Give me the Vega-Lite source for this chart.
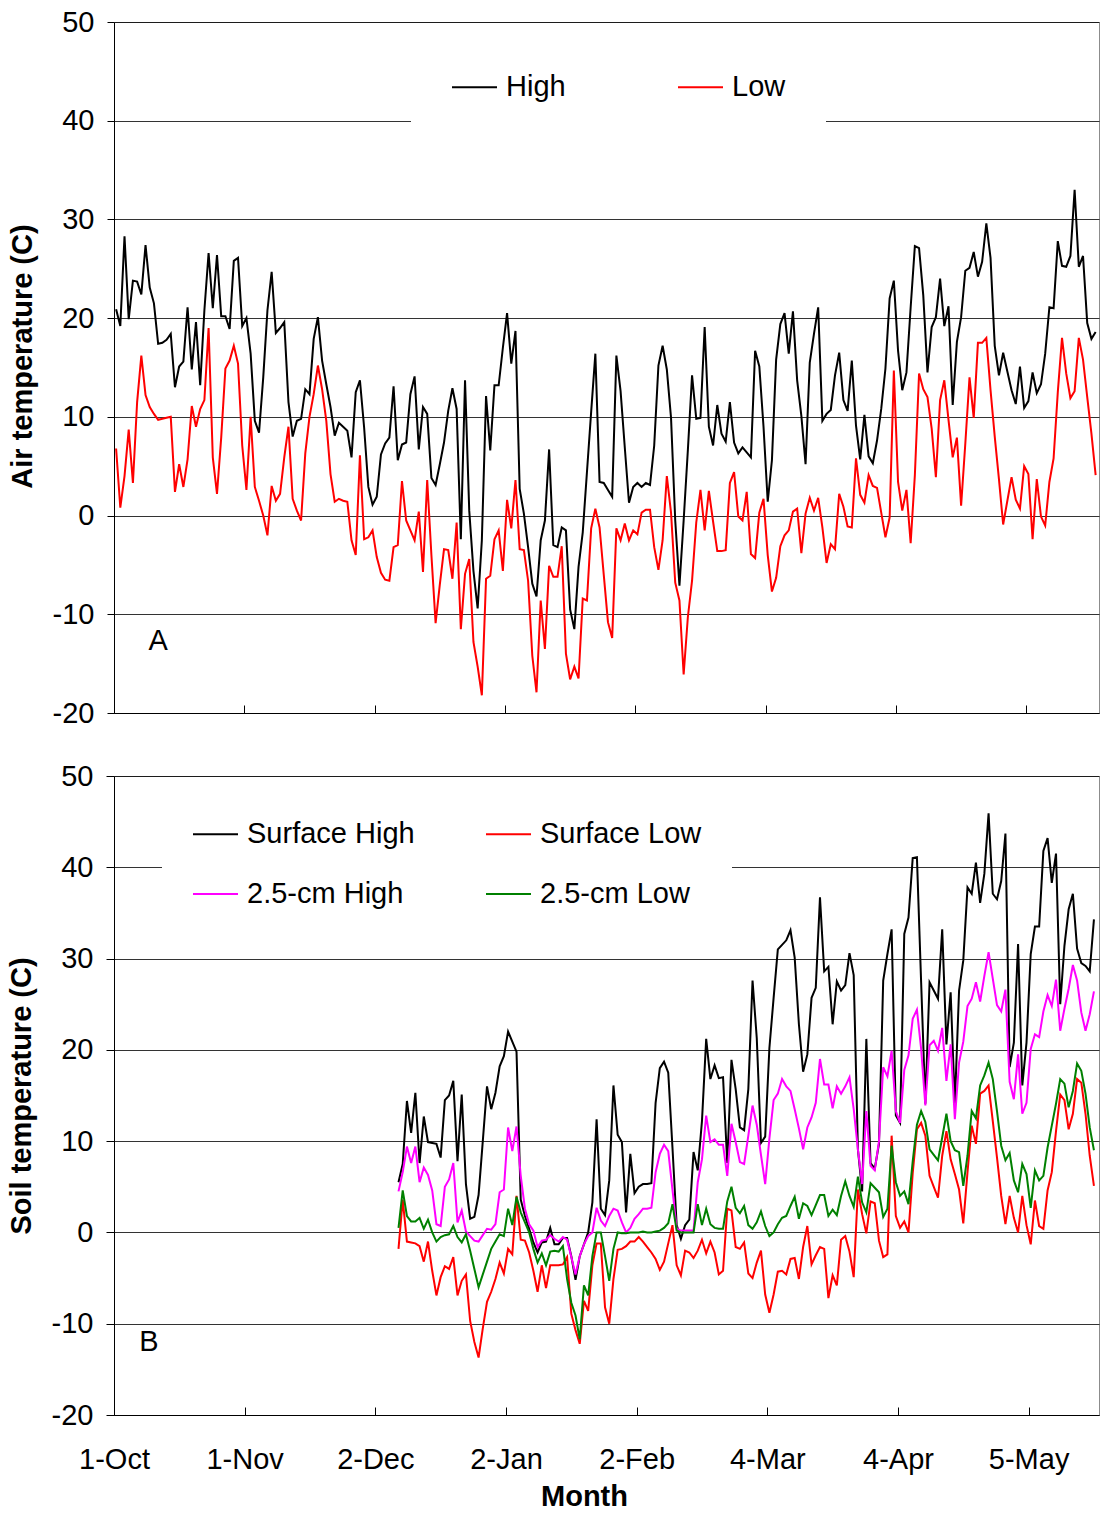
{
  "$schema": "https://vega.github.io/schema/vega-lite/v6.json",
  "background": "#ffffff",
  "padding": {"left": 6, "top": 7, "right": 0, "bottom": 0},
  "spacing": 32,
  "config": {
    "font": "Liberation Sans",
    "view": {"stroke": "#8c8c8c", "strokeWidth": 1},
    "axis": {
      "labelFont": "Liberation Sans", "labelFontSize": 29, "labelColor": "#000000",
      "titleFont": "Liberation Sans", "titleFontSize": 29, "titleFontWeight": "bold", "titleColor": "#000000",
      "domainColor": "#000000", "tickColor": "#000000", "gridColor": "#000000", "gridOpacity": 0.8
    }
  },
  "resolve": {
    "scale": {"x": "independent", "y": "independent", "color": "independent"},
    "legend": {"color": "independent"}
  },
  "datasets": {
    "air": [
      {"day":0,"High":20.9,"Low":6.8},{"day":1,"High":19.2,"Low":0.8},{"day":2,"High":28.3,"Low":4.0},{"day":3,"High":19.9,"Low":8.7},{"day":4,"High":23.8,"Low":3.3},
      {"day":5,"High":23.7,"Low":11.5},{"day":6,"High":22.4,"Low":16.2},{"day":7,"High":27.4,"Low":12.2},{"day":8,"High":23.1,"Low":11.0},{"day":9,"High":21.5,"Low":10.3},
      {"day":10,"High":17.4,"Low":9.7},{"day":11,"High":17.5,"Low":9.8},{"day":12,"High":17.8,"Low":9.9},{"day":13,"High":18.4,"Low":10.0},{"day":14,"High":13.0,"Low":2.4},
      {"day":15,"High":15.1,"Low":5.2},{"day":16,"High":15.6,"Low":2.9},{"day":17,"High":21.1,"Low":5.7},{"day":18,"High":14.8,"Low":11.1},{"day":19,"High":19.6,"Low":9.0},
      {"day":20,"High":13.2,"Low":10.8},{"day":21,"High":20.8,"Low":11.7},{"day":22,"High":26.6,"Low":19.0},{"day":23,"High":21.0,"Low":5.9},{"day":24,"High":26.4,"Low":2.2},
      {"day":25,"High":20.2,"Low":7.9},{"day":26,"High":20.2,"Low":14.9},{"day":27,"High":18.9,"Low":15.7},{"day":28,"High":25.8,"Low":17.2},{"day":29,"High":26.1,"Low":15.4},
      {"day":30,"High":19.2,"Low":7.1},{"day":31,"High":20.0,"Low":2.6},{"day":32,"High":16.4,"Low":10.0},{"day":33,"High":9.6,"Low":2.9},{"day":34,"High":8.4,"Low":1.5},
      {"day":35,"High":14.0,"Low":0.0},{"day":36,"High":20.8,"Low":-2.0},{"day":37,"High":24.7,"Low":3.0},{"day":38,"High":18.5,"Low":1.5},{"day":39,"High":19.0,"Low":2.2},
      {"day":40,"High":19.6,"Low":5.9},{"day":41,"High":11.5,"Low":9.0},{"day":42,"High":8.0,"Low":1.7},{"day":43,"High":9.6,"Low":0.5},{"day":44,"High":9.8,"Low":-0.5},
      {"day":45,"High":12.8,"Low":6.3},{"day":46,"High":12.3,"Low":10.0},{"day":47,"High":17.9,"Low":12.3},{"day":48,"High":20.1,"Low":15.2},{"day":49,"High":15.7,"Low":12.8},
      {"day":50,"High":13.3,"Low":9.6},{"day":51,"High":11.0,"Low":4.2},{"day":52,"High":8.1,"Low":1.4},{"day":53,"High":9.4,"Low":1.7},{"day":54,"High":9.0,"Low":1.5},
      {"day":55,"High":8.6,"Low":1.4},{"day":56,"High":5.9,"Low":-2.5},{"day":57,"High":12.5,"Low":-4.0},{"day":58,"High":13.7,"Low":6.1},{"day":59,"High":8.9,"Low":-2.4},
      {"day":60,"High":2.9,"Low":-2.2},{"day":61,"High":1.1,"Low":-1.5},{"day":62,"High":1.9,"Low":-4.2},{"day":63,"High":6.2,"Low":-5.8},{"day":64,"High":7.3,"Low":-6.5},
      {"day":65,"High":7.9,"Low":-6.6},{"day":66,"High":13.1,"Low":-3.2},{"day":67,"High":5.6,"Low":-3.0},{"day":68,"High":7.2,"Low":3.5},{"day":69,"High":7.4,"Low":-0.5},
      {"day":70,"High":12.3,"Low":-1.5},{"day":71,"High":14.1,"Low":-2.5},{"day":72,"High":6.7,"Low":0.4},{"day":73,"High":11.0,"Low":-5.7},{"day":74,"High":10.3,"Low":3.6},
      {"day":75,"High":3.8,"Low":-4.0},{"day":76,"High":3.1,"Low":-10.9},{"day":77,"High":5.2,"Low":-7.0},{"day":78,"High":7.4,"Low":-3.4},{"day":79,"High":10.6,"Low":-3.5},
      {"day":80,"High":12.9,"Low":-6.4},{"day":81,"High":10.8,"Low":-0.7},{"day":82,"High":-2.4,"Low":-11.5},{"day":83,"High":13.7,"Low":-5.9},{"day":84,"High":0.5,"Low":-4.4},
      {"day":85,"High":-5.6,"Low":-12.8},{"day":86,"High":-9.4,"Low":-15.3},{"day":87,"High":-2.5,"Low":-18.2},{"day":88,"High":12.1,"Low":-6.4},{"day":89,"High":6.6,"Low":-6.1},
      {"day":90,"High":13.2,"Low":-2.4},{"day":91,"High":13.2,"Low":-1.5},{"day":92,"High":17.0,"Low":-5.6},{"day":93,"High":20.5,"Low":1.6},{"day":94,"High":15.4,"Low":-1.3},
      {"day":95,"High":18.7,"Low":3.6},{"day":96,"High":2.7,"Low":-3.4},{"day":97,"High":0.2,"Low":-3.5},{"day":98,"High":-3.2,"Low":-6.6},{"day":99,"High":-6.9,"Low":-14.2},
      {"day":100,"High":-8.2,"Low":-17.9},{"day":101,"High":-2.5,"Low":-8.6},{"day":102,"High":-0.5,"Low":-13.5},{"day":103,"High":6.7,"Low":-5.1},{"day":104,"High":-3.0,"Low":-6.2},
      {"day":105,"High":-3.2,"Low":-6.2},{"day":106,"High":-1.2,"Low":-3.1},{"day":107,"High":-1.5,"Low":-14.0},{"day":108,"High":-9.5,"Low":-16.6},{"day":109,"High":-11.5,"Low":-15.3},
      {"day":110,"High":-5.2,"Low":-16.5},{"day":111,"High":-1.7,"Low":-8.4},{"day":112,"High":4.4,"Low":-8.6},{"day":113,"High":10.5,"Low":-1.3},{"day":114,"High":16.4,"Low":0.7},
      {"day":115,"High":3.4,"Low":-1.2},{"day":116,"High":3.3,"Low":-6.0},{"day":117,"High":2.6,"Low":-10.8},{"day":118,"High":1.9,"Low":-12.4},{"day":119,"High":16.2,"Low":-1.3},
      {"day":120,"High":12.6,"Low":-2.5},{"day":121,"High":6.9,"Low":-0.8},{"day":122,"High":1.3,"Low":-2.5},{"day":123,"High":2.9,"Low":-1.5},{"day":124,"High":3.3,"Low":-1.9},
      {"day":125,"High":2.9,"Low":0.3},{"day":126,"High":3.3,"Low":0.6},{"day":127,"High":3.1,"Low":0.6},{"day":128,"High":7.1,"Low":-3.2},{"day":129,"High":15.2,"Low":-5.5},
      {"day":130,"High":17.2,"Low":-2.5},{"day":131,"High":14.8,"Low":4.0},{"day":132,"High":9.9,"Low":0.3},{"day":133,"High":-0.5,"Low":-6.8},{"day":134,"High":-7.1,"Low":-8.6},
      {"day":135,"High":-0.5,"Low":-16.1},{"day":136,"High":6.6,"Low":-10.3},{"day":137,"High":14.2,"Low":-6.6},{"day":138,"High":9.8,"Low":-0.7},{"day":139,"High":9.9,"Low":2.6},
      {"day":140,"High":19.1,"Low":-1.5},{"day":141,"High":9.0,"Low":2.5},{"day":142,"High":7.1,"Low":-0.6},{"day":143,"High":11.2,"Low":-3.6},{"day":144,"High":8.3,"Low":-3.6},
      {"day":145,"High":7.5,"Low":-3.5},{"day":146,"High":11.5,"Low":3.3},{"day":147,"High":7.4,"Low":4.4},{"day":148,"High":6.3,"Low":-0.1},{"day":149,"High":6.9,"Low":-0.5},
      {"day":150,"High":6.4,"Low":2.4},{"day":151,"High":5.9,"Low":-3.9},{"day":152,"High":16.7,"Low":-4.3},{"day":153,"High":15.1,"Low":0.3},{"day":154,"High":9.0,"Low":1.7},
      {"day":155,"High":1.4,"Low":-4.0},{"day":156,"High":5.6,"Low":-7.7},{"day":157,"High":15.8,"Low":-6.3},{"day":158,"High":19.4,"Low":-3.1},{"day":159,"High":20.5,"Low":-2.0},
      {"day":160,"High":16.4,"Low":-1.5},{"day":161,"High":20.7,"Low":0.4},{"day":162,"High":13.7,"Low":0.7},{"day":163,"High":10.1,"Low":-3.8},{"day":164,"High":5.2,"Low":0.2},
      {"day":165,"High":15.5,"Low":1.8},{"day":166,"High":18.4,"Low":0.5},{"day":167,"High":21.1,"Low":1.8},{"day":168,"High":9.6,"Low":-1.2},{"day":169,"High":10.3,"Low":-4.8},
      {"day":170,"High":10.7,"Low":-2.9},{"day":171,"High":14.2,"Low":-3.4},{"day":172,"High":16.5,"Low":2.2},{"day":173,"High":11.7,"Low":0.9},{"day":174,"High":10.6,"Low":-1.1},
      {"day":175,"High":15.7,"Low":-1.2},{"day":176,"High":9.1,"Low":5.8},{"day":177,"High":5.7,"Low":2.1},{"day":178,"High":10.2,"Low":1.3},{"day":179,"High":6.0,"Low":4.1},
      {"day":180,"High":5.3,"Low":3.0},{"day":181,"High":7.6,"Low":2.8},{"day":182,"High":10.8,"Low":0.3},{"day":183,"High":14.9,"Low":-2.2},{"day":184,"High":22.0,"Low":-0.2},
      {"day":185,"High":23.8,"Low":14.7},{"day":186,"High":16.7,"Low":3.4},{"day":187,"High":12.7,"Low":0.5},{"day":188,"High":14.5,"Low":2.6},{"day":189,"High":21.1,"Low":-2.8},
      {"day":190,"High":27.3,"Low":4.1},{"day":191,"High":27.1,"Low":14.4},{"day":192,"High":22.3,"Low":12.8},{"day":193,"High":14.5,"Low":12.0},{"day":194,"High":19.1,"Low":8.8},
      {"day":195,"High":20.1,"Low":3.9},{"day":196,"High":24.0,"Low":11.7},{"day":197,"High":19.2,"Low":13.7},{"day":198,"High":21.2,"Low":9.7},{"day":199,"High":11.2,"Low":5.9},
      {"day":200,"High":17.6,"Low":7.9},{"day":201,"High":20.1,"Low":1.0},{"day":202,"High":24.8,"Low":7.3},{"day":203,"High":25.1,"Low":14.0},{"day":204,"High":26.7,"Low":9.9},
      {"day":205,"High":24.2,"Low":17.5},{"day":206,"High":25.7,"Low":17.5},{"day":207,"High":29.6,"Low":18.0},{"day":208,"High":26.1,"Low":12.7},{"day":209,"High":17.2,"Low":8.0},
      {"day":210,"High":14.2,"Low":3.7},{"day":211,"High":16.5,"Low":-0.9},{"day":212,"High":14.6,"Low":1.5},{"day":213,"High":12.7,"Low":3.9},{"day":214,"High":11.3,"Low":1.6},
      {"day":215,"High":15.1,"Low":0.7},{"day":216,"High":10.9,"Low":5.0},{"day":217,"High":11.6,"Low":4.2},{"day":218,"High":14.5,"Low":-2.4},{"day":219,"High":12.4,"Low":3.7},
      {"day":220,"High":13.3,"Low":-0.1},{"day":221,"High":16.4,"Low":-1.0},{"day":222,"High":21.1,"Low":3.4},{"day":223,"High":21.0,"Low":5.8},{"day":224,"High":27.8,"Low":12.5},
      {"day":225,"High":25.3,"Low":18.0},{"day":226,"High":25.2,"Low":14.4},{"day":227,"High":26.3,"Low":11.9},{"day":228,"High":33.0,"Low":12.6},{"day":229,"High":25.2,"Low":18.0},
      {"day":230,"High":26.3,"Low":15.8},{"day":231,"High":19.5,"Low":12.0},{"day":232,"High":17.9,"Low":8.3},{"day":233,"High":18.6,"Low":4.1}
    ],
    "soil": [
      {"day":67,"sh":5.5,"sl":-1.8,"h25":4.5,"l25":0.5},{"day":68,"sh":7.5,"sl":3.6,"h25":6.6,"l25":4.6},{"day":69,"sh":14.4,"sl":-1.0,"h25":9.4,"l25":1.8},
      {"day":70,"sh":10.9,"sl":-1.1,"h25":7.6,"l25":1.2},{"day":71,"sh":15.3,"sl":-1.2,"h25":9.4,"l25":1.2},{"day":72,"sh":7.6,"sl":-1.5,"h25":5.5,"l25":1.6},
      {"day":73,"sh":12.7,"sl":-3.2,"h25":7.1,"l25":0.4},{"day":74,"sh":9.9,"sl":-1.0,"h25":6.3,"l25":1.4},{"day":75,"sh":9.8,"sl":-4.2,"h25":4.6,"l25":0.0},
      {"day":76,"sh":9.7,"sl":-6.9,"h25":0.9,"l25":-1.0},{"day":77,"sh":8.2,"sl":-4.9,"h25":0.7,"l25":-0.5},{"day":78,"sh":14.5,"sl":-3.7,"h25":5.0,"l25":-0.3},
      {"day":79,"sh":15.0,"sl":-4.0,"h25":5.8,"l25":-0.2},{"day":80,"sh":16.6,"sl":-2.7,"h25":7.6,"l25":0.7},{"day":81,"sh":7.8,"sl":-6.9,"h25":1.1,"l25":-0.5},
      {"day":82,"sh":15.1,"sl":-5.3,"h25":2.4,"l25":-1.1},{"day":83,"sh":5.3,"sl":-4.6,"h25":0.1,"l25":-0.2},{"day":84,"sh":1.5,"sl":-9.7,"h25":-0.4,"l25":-2.0},
      {"day":85,"sh":1.7,"sl":-12.0,"h25":-0.9,"l25":-4.0},{"day":86,"sh":4.1,"sl":-13.7,"h25":-1.0,"l25":-6.0},{"day":87,"sh":10.0,"sl":-10.5,"h25":-0.3,"l25":-4.6},
      {"day":88,"sh":16.0,"sl":-7.6,"h25":0.4,"l25":-3.2},{"day":89,"sh":13.5,"sl":-6.5,"h25":0.3,"l25":-1.8},{"day":90,"sh":15.3,"sl":-5.1,"h25":0.9,"l25":-1.0},
      {"day":91,"sh":18.2,"sl":-3.3,"h25":4.4,"l25":-0.2},{"day":92,"sh":19.3,"sl":-4.5,"h25":4.7,"l25":-0.4},{"day":93,"sh":22.0,"sl":-1.8,"h25":11.5,"l25":2.6},
      {"day":94,"sh":20.9,"sl":-2.4,"h25":8.9,"l25":0.8},{"day":95,"sh":19.8,"sl":4.0,"h25":11.6,"l25":3.9},{"day":96,"sh":3.6,"sl":-0.8,"h25":6.2,"l25":2.2},
      {"day":97,"sh":1.8,"sl":-0.9,"h25":2.6,"l25":1.1},{"day":98,"sh":0.4,"sl":-2.2,"h25":0.9,"l25":0.0},{"day":99,"sh":-1.1,"sl":-4.2,"h25":0.2,"l25":-1.8},
      {"day":100,"sh":-2.2,"sl":-6.5,"h25":-1.6,"l25":-3.3},{"day":101,"sh":-1.1,"sl":-3.6,"h25":-0.9,"l25":-2.3},{"day":102,"sh":-1.0,"sl":-6.1,"h25":-0.8,"l25":-3.6},
      {"day":103,"sh":0.5,"sl":-3.6,"h25":-0.3,"l25":-2.1},{"day":104,"sh":-1.3,"sl":-3.6,"h25":-0.7,"l25":-2.0},{"day":105,"sh":-1.3,"sl":-3.6,"h25":-1.0,"l25":-2.1},
      {"day":106,"sh":-0.6,"sl":-3.5,"h25":-0.5,"l25":-1.5},{"day":107,"sh":-0.6,"sl":-2.7,"h25":-0.8,"l25":-5.1},{"day":108,"sh":-2.6,"sl":-8.9,"h25":-2.7,"l25":-7.7},
      {"day":109,"sh":-5.2,"sl":-10.7,"h25":-4.6,"l25":-9.1},{"day":110,"sh":-2.6,"sl":-12.2,"h25":-2.6,"l25":-11.7},{"day":111,"sh":-1.3,"sl":-7.5,"h25":-1.3,"l25":-5.8},
      {"day":112,"sh":0.0,"sl":-8.6,"h25":-0.4,"l25":-6.9},{"day":113,"sh":3.3,"sl":-3.6,"h25":0.0,"l25":-2.6},{"day":114,"sh":12.4,"sl":-1.2,"h25":2.7,"l25":0.0},
      {"day":115,"sh":2.6,"sl":-1.2,"h25":1.3,"l25":0.0},{"day":116,"sh":1.9,"sl":-8.2,"h25":0.7,"l25":-2.6},{"day":117,"sh":5.7,"sl":-10.0,"h25":1.8,"l25":-5.3},
      {"day":118,"sh":16.1,"sl":-5.1,"h25":2.6,"l25":-1.8},{"day":119,"sh":10.7,"sl":-1.9,"h25":2.4,"l25":0.0},{"day":120,"sh":9.9,"sl":-1.8,"h25":1.1,"l25":-0.1},
      {"day":121,"sh":2.2,"sl":-1.5,"h25":0.0,"l25":-0.1},{"day":122,"sh":8.6,"sl":-1.0,"h25":0.5,"l25":0.0},{"day":123,"sh":4.3,"sl":-1.0,"h25":1.5,"l25":0.0},
      {"day":124,"sh":5.0,"sl":-0.5,"h25":2.0,"l25":0.0},{"day":125,"sh":5.3,"sl":-1.0,"h25":2.6,"l25":0.1},{"day":126,"sh":5.3,"sl":-1.6,"h25":2.6,"l25":0.0},
      {"day":127,"sh":5.4,"sl":-2.2,"h25":2.7,"l25":0.0},{"day":128,"sh":14.2,"sl":-2.9,"h25":6.6,"l25":0.1},{"day":129,"sh":18.0,"sl":-4.1,"h25":8.6,"l25":0.2},
      {"day":130,"sh":18.7,"sl":-3.2,"h25":9.6,"l25":0.5},{"day":131,"sh":17.5,"sl":-1.2,"h25":8.9,"l25":1.0},{"day":132,"sh":9.3,"sl":0.8,"h25":4.7,"l25":3.1},
      {"day":133,"sh":0.8,"sl":-3.6,"h25":0.4,"l25":0.2},{"day":134,"sh":-0.7,"sl":-4.7,"h25":0.2,"l25":0.0},{"day":135,"sh":0.8,"sl":-2.0,"h25":0.2,"l25":0.0},
      {"day":136,"sh":1.4,"sl":-2.2,"h25":0.2,"l25":0.0},{"day":137,"sh":8.8,"sl":-2.8,"h25":0.2,"l25":0.0},{"day":138,"sh":6.8,"sl":-2.0,"h25":5.5,"l25":3.1},
      {"day":139,"sh":12.2,"sl":-0.8,"h25":8.0,"l25":0.8},{"day":140,"sh":21.2,"sl":-2.3,"h25":12.8,"l25":2.6},{"day":141,"sh":16.8,"sl":-1.0,"h25":9.9,"l25":0.9},
      {"day":142,"sh":18.3,"sl":-2.2,"h25":10.2,"l25":0.5},{"day":143,"sh":16.9,"sl":-4.6,"h25":9.6,"l25":0.4},{"day":144,"sh":17.0,"sl":-4.2,"h25":9.6,"l25":0.4},
      {"day":145,"sh":7.6,"sl":2.6,"h25":6.2,"l25":3.4},{"day":146,"sh":18.9,"sl":2.4,"h25":11.9,"l25":5.0},{"day":147,"sh":15.7,"sl":-1.6,"h25":9.9,"l25":2.7},
      {"day":148,"sh":11.5,"sl":-1.8,"h25":7.7,"l25":2.1},{"day":149,"sh":11.2,"sl":-1.1,"h25":7.5,"l25":2.9},{"day":150,"sh":15.7,"sl":-4.5,"h25":10.6,"l25":0.8},
      {"day":151,"sh":27.6,"sl":-5.0,"h25":13.9,"l25":0.4},{"day":152,"sh":21.3,"sl":-3.3,"h25":11.8,"l25":1.1},{"day":153,"sh":9.8,"sl":-2.0,"h25":8.5,"l25":2.3},
      {"day":154,"sh":10.5,"sl":-6.8,"h25":5.3,"l25":0.7},{"day":155,"sh":20.2,"sl":-8.8,"h25":10.3,"l25":-0.4},{"day":156,"sh":25.7,"sl":-6.8,"h25":14.5,"l25":0.0},
      {"day":157,"sh":31.0,"sl":-4.3,"h25":15.2,"l25":0.9},{"day":158,"sh":31.5,"sl":-4.2,"h25":16.8,"l25":1.6},{"day":159,"sh":32.0,"sl":-4.6,"h25":16.0,"l25":1.8},
      {"day":160,"sh":33.1,"sl":-2.9,"h25":15.5,"l25":2.9},{"day":161,"sh":30.1,"sl":-2.8,"h25":13.5,"l25":3.9},{"day":162,"sh":22.8,"sl":-5.1,"h25":11.4,"l25":1.5},
      {"day":163,"sh":17.6,"sl":-1.6,"h25":9.1,"l25":3.2},{"day":164,"sh":19.5,"sl":0.7,"h25":11.5,"l25":2.9},{"day":165,"sh":25.7,"sl":-3.5,"h25":12.6,"l25":1.9},
      {"day":166,"sh":26.8,"sl":-2.5,"h25":14.2,"l25":3.0},{"day":167,"sh":36.7,"sl":-1.6,"h25":19.0,"l25":4.1},{"day":168,"sh":28.6,"sl":-1.8,"h25":16.2,"l25":4.1},
      {"day":169,"sh":29.1,"sl":-7.2,"h25":16.2,"l25":1.8},{"day":170,"sh":22.8,"sl":-4.7,"h25":13.6,"l25":2.5},{"day":171,"sh":27.5,"sl":-5.8,"h25":16.0,"l25":1.9},
      {"day":172,"sh":26.5,"sl":-0.8,"h25":15.2,"l25":4.0},{"day":173,"sh":27.1,"sl":-0.4,"h25":16.0,"l25":5.6},{"day":174,"sh":30.6,"sl":-2.1,"h25":17.0,"l25":4.0},
      {"day":175,"sh":28.2,"sl":-4.9,"h25":13.5,"l25":2.8},{"day":176,"sh":9.1,"sl":4.7,"h25":9.1,"l25":6.1},{"day":177,"sh":4.5,"sl":2.0,"h25":5.3,"l25":3.3},
      {"day":178,"sh":21.2,"sl":-0.1,"h25":13.3,"l25":2.2},{"day":179,"sh":7.6,"sl":3.4,"h25":7.3,"l25":5.4},{"day":180,"sh":7.0,"sl":3.2,"h25":6.8,"l25":4.9},
      {"day":181,"sh":9.7,"sl":-0.9,"h25":10.0,"l25":4.4},{"day":182,"sh":27.6,"sl":-2.7,"h25":18.1,"l25":1.7},{"day":183,"sh":30.5,"sl":-2.4,"h25":17.1,"l25":2.6},
      {"day":184,"sh":33.2,"sl":10.6,"h25":19.9,"l25":9.5},{"day":185,"sh":12.8,"sl":1.8,"h25":13.3,"l25":5.5},{"day":186,"sh":12.0,"sl":0.5,"h25":12.0,"l25":4.0},
      {"day":187,"sh":32.7,"sl":1.2,"h25":17.8,"l25":4.5},{"day":188,"sh":34.5,"sl":0.0,"h25":19.4,"l25":3.1},{"day":189,"sh":41.0,"sl":6.5,"h25":23.4,"l25":7.8},
      {"day":190,"sh":41.1,"sl":11.3,"h25":24.4,"l25":11.8},{"day":191,"sh":27.4,"sl":12.0,"h25":20.1,"l25":13.3},{"day":192,"sh":14.1,"sl":10.6,"h25":13.9,"l25":12.1},
      {"day":193,"sh":27.4,"sl":6.2,"h25":20.5,"l25":9.1},{"day":194,"sh":26.5,"sl":5.0,"h25":21.0,"l25":8.5},{"day":195,"sh":25.6,"sl":3.8,"h25":19.9,"l25":7.9},
      {"day":196,"sh":33.2,"sl":8.4,"h25":22.4,"l25":10.4},{"day":197,"sh":20.6,"sl":11.1,"h25":16.6,"l25":13.0},{"day":198,"sh":26.3,"sl":8.0,"h25":20.6,"l25":10.0},
      {"day":199,"sh":14.1,"sl":6.4,"h25":12.4,"l25":9.0},{"day":200,"sh":26.5,"sl":4.7,"h25":18.6,"l25":8.8},{"day":201,"sh":29.8,"sl":1.0,"h25":20.9,"l25":5.1},
      {"day":202,"sh":37.8,"sl":6.6,"h25":24.8,"l25":8.4},{"day":203,"sh":37.1,"sl":11.7,"h25":25.6,"l25":13.3},{"day":204,"sh":40.5,"sl":9.7,"h25":27.4,"l25":12.5},
      {"day":205,"sh":36.1,"sl":15.2,"h25":25.3,"l25":16.1},{"day":206,"sh":39.3,"sl":15.5,"h25":28.1,"l25":17.2},{"day":207,"sh":45.9,"sl":16.1,"h25":30.7,"l25":18.6},
      {"day":208,"sh":37.1,"sl":12.2,"h25":27.8,"l25":16.8},{"day":209,"sh":36.5,"sl":8.2,"h25":24.9,"l25":13.3},{"day":210,"sh":38.5,"sl":4.0,"h25":24.2,"l25":9.5},
      {"day":211,"sh":43.7,"sl":0.9,"h25":26.6,"l25":7.9},{"day":212,"sh":18.1,"sl":4.0,"h25":16.5,"l25":8.7},{"day":213,"sh":20.8,"sl":1.6,"h25":14.6,"l25":5.7},
      {"day":214,"sh":31.6,"sl":0.0,"h25":19.5,"l25":4.4},{"day":215,"sh":16.1,"sl":4.0,"h25":13.0,"l25":7.5},{"day":216,"sh":20.8,"sl":0.8,"h25":14.2,"l25":6.4},
      {"day":217,"sh":30.5,"sl":-1.3,"h25":20.1,"l25":2.7},{"day":218,"sh":33.5,"sl":3.5,"h25":21.7,"l25":6.8},{"day":219,"sh":33.5,"sl":0.7,"h25":21.4,"l25":5.7},
      {"day":220,"sh":41.8,"sl":0.4,"h25":24.2,"l25":6.2},{"day":221,"sh":43.2,"sl":4.6,"h25":26.0,"l25":9.3},{"day":222,"sh":38.3,"sl":6.6,"h25":24.8,"l25":11.7},
      {"day":223,"sh":41.5,"sl":11.1,"h25":27.7,"l25":14.1},{"day":224,"sh":25.0,"sl":15.1,"h25":22.1,"l25":16.8},{"day":225,"sh":31.4,"sl":14.5,"h25":24.5,"l25":16.3},
      {"day":226,"sh":35.4,"sl":11.3,"h25":26.7,"l25":13.7},{"day":227,"sh":37.1,"sl":13.0,"h25":29.3,"l25":15.5},{"day":228,"sh":31.1,"sl":16.8,"h25":27.6,"l25":18.5},
      {"day":229,"sh":29.5,"sl":16.4,"h25":24.1,"l25":17.7},{"day":230,"sh":29.2,"sl":13.0,"h25":22.1,"l25":15.2},{"day":231,"sh":28.6,"sl":8.4,"h25":23.9,"l25":11.5},
      {"day":232,"sh":34.3,"sl":5.1,"h25":26.4,"l25":9.0}
    ]
  },
  "vconcat": [
    {
      "width": 985,
      "height": 691,
      "encoding": {
        "x": {
          "field": "day", "type": "quantitative",
          "scale": {"domain": [-0.5, 233.8], "nice": false, "zero": false},
          "axis": {"values": [-0.5, 30.5, 61.5, 92.5, 123.5, 154.5, 185.5, 216.5], "labels": false, "grid": false, "tickSize": -8, "title": null}
        },
        "y": {
          "field": "temp", "type": "quantitative",
          "scale": {"domain": [-20, 50], "nice": false, "zero": false},
          "axis": {"values": [-20, -10, 0, 10, 20, 30, 40, 50], "labelExpr": "datum.value + ''", "grid": true, "tickSize": 7, "labelPadding": 13, "titlePadding": 15, "title": "Air temperature (C)", "titleY": 334}
        }
      },
      "layer": [
        {
          "data": {"name": "air"},
          "transform": [{"fold": ["High", "Low"], "as": ["series", "temp"]}],
          "mark": {"type": "line", "strokeWidth": 2},
          "encoding": {
            "color": {
              "field": "series", "type": "nominal",
              "scale": {"domain": ["High", "Low"], "range": ["#000000", "#ff0000"]},
              "legend": {
                "orient": "none", "legendX": 297, "legendY": 1.5, "direction": "horizontal", "title": null,
                "symbolType": "stroke", "symbolSize": 2025, "symbolStrokeWidth": 2,
                "labelFont": "Liberation Sans", "labelFontSize": 29, "labelColor": "#000000", "labelOffset": 8, "labelLimit": 400,
                "columnPadding": 108, "padding": 40, "fillColor": "#ffffff"
              }
            }
          }
        },
        {
          "data": {"values": [{"day": 10, "temp": -12.7, "label": "A"}]},
          "mark": {"type": "text", "font": "Liberation Sans", "fontSize": 29, "color": "#000000", "align": "center", "baseline": "middle"},
          "encoding": {"text": {"field": "label"}}
        }
      ]
    },
    {
      "width": 985,
      "height": 639,
      "encoding": {
        "x": {
          "field": "day", "type": "quantitative",
          "scale": {"domain": [-0.5, 233.2], "nice": false, "zero": false},
          "axis": {
            "values": [-0.5, 30.5, 61.5, 92.5, 123.5, 154.5, 185.5, 216.5],
            "labelExpr": "['1-Oct','1-Nov','2-Dec','2-Jan','2-Feb','4-Mar','4-Apr','5-May'][round((datum.value + 0.5) / 31)]",
            "labelFlush": false, "labelOverlap": false, "grid": false, "tickSize": -8, "labelPadding": 38,
            "title": "Month", "titlePadding": 8, "titleX": 470
          }
        },
        "y": {
          "field": "temp", "type": "quantitative",
          "scale": {"domain": [-20, 50], "nice": false, "zero": false},
          "axis": {"values": [-20, -10, 0, 10, 20, 30, 40, 50], "labelExpr": "datum.value + ''", "grid": true, "tickSize": 8, "labelPadding": 13, "titlePadding": 15, "title": "Soil temperature (C)"}
        }
      },
      "layer": [
        {
          "data": {"name": "soil"},
          "transform": [{"fold": ["sh", "sl", "h25", "l25"], "as": ["series", "temp"]}],
          "mark": {"type": "line", "strokeWidth": 2},
          "encoding": {
            "color": {
              "field": "series", "type": "nominal",
              "scale": {"domain": ["sh", "sl", "h25", "l25"], "range": ["#000000", "#ff0000", "#ff00ff", "#008000"]},
              "legend": {
                "orient": "none", "legendX": 48, "legendY": 4.5, "direction": "horizontal", "columns": 2, "title": null,
                "labelExpr": "datum.value == 'sh' ? 'Surface High' : datum.value == 'sl' ? 'Surface Low' : datum.value == 'h25' ? '2.5-cm High' : '2.5-cm Low'",
                "symbolType": "stroke", "symbolSize": 2025, "symbolStrokeWidth": 2,
                "labelFont": "Liberation Sans", "labelFontSize": 29, "labelColor": "#000000", "labelOffset": 8, "labelLimit": 400,
                "columnPadding": 67, "rowPadding": 21, "padding": 30, "fillColor": "#ffffff"
              }
            }
          }
        },
        {
          "data": {"values": [{"day": 7.8, "temp": -12.0, "label": "B"}]},
          "mark": {"type": "text", "font": "Liberation Sans", "fontSize": 29, "color": "#000000", "align": "center", "baseline": "middle"},
          "encoding": {"text": {"field": "label"}}
        }
      ]
    }
  ]
}
